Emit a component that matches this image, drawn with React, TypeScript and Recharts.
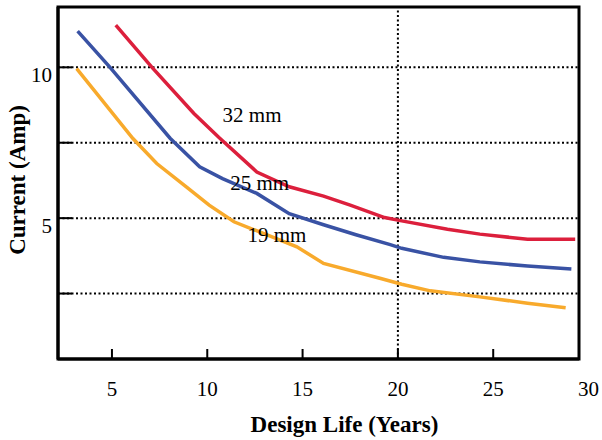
import {
  LineChart,
  Line,
  XAxis,
  YAxis,
  ReferenceLine,
  ReferenceArea,
  ReferenceDot,
} from 'recharts';

const FONT = "'Liberation Serif', 'Times New Roman', serif";

// design life (years) / current (amp) per anode diameter
const years32 = [5.2, 7.1, 9.3, 10.6, 12.6, 14.3, 16.1, 17.5, 19.3, 20.2, 22.6, 24.3, 26.8, 29.3];
const amps32 = [11.4, 10.0, 8.47, 7.68, 6.53, 6.04, 5.73, 5.43, 5.02, 4.91, 4.63, 4.47, 4.3, 4.3];

const years25 = [3.2, 4.9, 8.05, 9.6, 10.8, 12.6, 14.3, 16.1, 17.8, 19.6, 20.2, 22.4, 24.3, 26.8, 29.1];
const amps25 = [11.2, 10.0, 7.65, 6.7, 6.31, 5.82, 5.15, 4.78, 4.45, 4.12, 4.0, 3.7, 3.55, 3.41, 3.31];

const years19 = [3.15, 6.1, 7.35, 8.9, 10.1, 11.4, 14.7, 16.1, 19.1, 20.2, 21.7, 24.3, 26.8, 28.8];
const amps19 = [9.96, 7.64, 6.81, 6.04, 5.43, 4.88, 4.05, 3.5, 3.0, 2.81, 2.59, 2.39, 2.18, 2.03];

const xTicks = [5, 10, 15, 20, 25, 30];
const yTicks = [2.5, 5, 7.5, 10];
const yLabelled = [5, 10];
const xDomain: [number, number] = [2.17, 29.5];
const yDomain: [number, number] = [0.33, 12];

const toPoints = (xs: number[], ys: number[]) => xs.map((x, i) => ({ x, y: ys[i] }));
const data32 = toPoints(years32, amps32);
const data25 = toPoints(years25, amps25);
const data19 = toPoints(years19, amps19);

const X_MARGIN = 22;

function XTick(props: any) {
  const { x, y, payload } = props;
  const v = payload.value;
  return (
    <g>
      <text x={x} y={y + 15} textAnchor="middle" fontSize={21} fontFamily={FONT} fill="#000">
        {v}
      </text>
      {v !== 30 && (
        <line x1={x} x2={x} y1={y - X_MARGIN - 10} y2={y - X_MARGIN} stroke="#000" strokeWidth={2} />
      )}
    </g>
  );
}

function YTick(props: any) {
  const { x, y, payload } = props;
  if (!yLabelled.includes(payload.value)) return null;
  return (
    <text x={x} y={y + 15} textAnchor="end" fontSize={21} fontFamily={FONT} fill="#000">
      {payload.value}
    </text>
  );
}

const curveLabel = (value: string) => ({
  value,
  position: 'center' as const,
  fontSize: 21,
  fontFamily: FONT,
  fill: '#000',
});

export default function App() {
  return (
    <div style={{ position: 'absolute', left: 0, top: 0, background: '#fff' }}>
      <LineChart width={602} height={440} margin={{ top: 7, right: 23, bottom: 8, left: 18 }}>
        <XAxis
          type="number"
          dataKey="x"
          domain={xDomain}
          allowDataOverflow
          ticks={xTicks}
          interval={0}
          tickLine={false}
          tickSize={0}
          tickMargin={X_MARGIN}
          tick={<XTick />}
          height={73}
          axisLine={{ stroke: '#000', strokeWidth: 3 }}
          label={{
            value: 'Design Life (Years)',
            position: 'insideBottom',
            offset: 0,
            dx: 26,
            fontSize: 23,
            fontWeight: 'bold',
            fontFamily: FONT,
            fill: '#000',
          }}
        />
        <YAxis
          type="number"
          domain={yDomain}
          allowDataOverflow
          ticks={yTicks}
          interval={0}
          width={40}
          tickSize={-14}
          tickMargin={20}
          tickLine={{ stroke: '#000', strokeWidth: 2 }}
          tick={<YTick />}
          axisLine={{ stroke: '#000', strokeWidth: 3 }}
          label={{
            value: 'Current (Amp)',
            angle: -90,
            position: 'insideLeft',
            offset: -1,
            dy: -3,
            fontSize: 23,
            fontWeight: 'bold',
            fontFamily: FONT,
            fill: '#000',
            style: { textAnchor: 'middle' },
          }}
        />

        {yTicks.map((v) => (
          <ReferenceLine key={v} y={v} stroke="#000" strokeWidth={2} strokeDasharray="2 2.5" />
        ))}
        <ReferenceLine x={20} stroke="#000" strokeWidth={2} strokeDasharray="2 2.5" />

        <Line data={data32} dataKey="y" type="linear" stroke="#DC1F3C" strokeWidth={3.5} dot={false} isAnimationActive={false} />
        <Line data={data25} dataKey="y" type="linear" stroke="#3952A4" strokeWidth={3.5} dot={false} isAnimationActive={false} />
        <Line data={data19} dataKey="y" type="linear" stroke="#F8AA2C" strokeWidth={3.5} dot={false} isAnimationActive={false} />

        <ReferenceDot x={12.35} y={8.42} r={0} fill="none" stroke="none" label={curveLabel('32 mm')} />
        <ReferenceDot x={12.75} y={6.19} r={0} fill="none" stroke="none" label={curveLabel('25 mm')} />
        <ReferenceDot x={13.65} y={4.47} r={0} fill="none" stroke="none" label={curveLabel('19 mm')} />

        <ReferenceArea
          x1={xDomain[0]}
          x2={xDomain[1]}
          y1={yDomain[0]}
          y2={yDomain[1]}
          fill="none"
          stroke="#000"
          strokeWidth={3}
        />
      </LineChart>
    </div>
  );
}
